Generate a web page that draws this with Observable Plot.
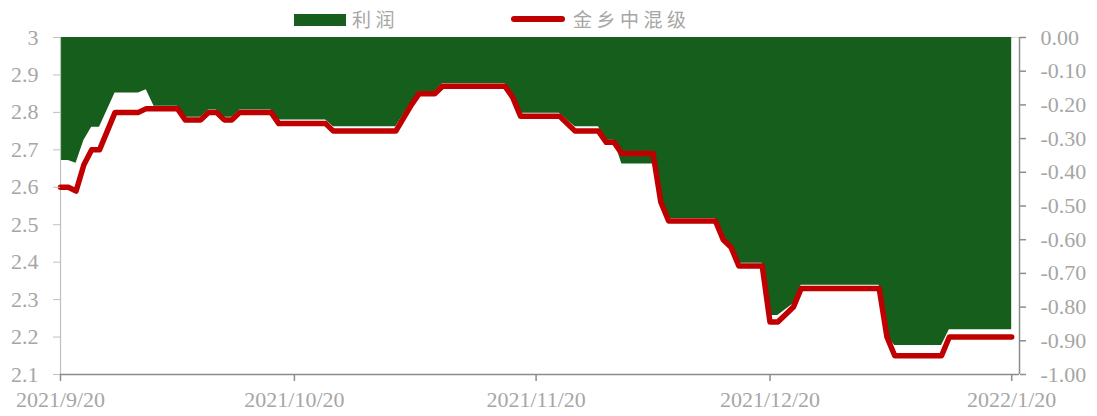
<!DOCTYPE html>
<html>
<head>
<meta charset="utf-8">
<script src="https://cdn.jsdelivr.net/npm/d3@7"></script>
<script src="https://cdn.jsdelivr.net/npm/@observablehq/plot@0.6"></script>
<style>
  body { margin: 0; background: #fff; }
  #wrap { position: relative; width: 1097px; height: 416px; }
  #legend { position: absolute; left: 0; top: 0; width: 1097px; height: 37px; font-family: "Noto Sans CJK SC", sans-serif; font-size: 19px; color: #a6a6a6; letter-spacing: 4.5px; }
  .sw-area { position: absolute; left: 294px; top: 14px; width: 52px; height: 12px; background: #165e1b; }
  .sw-line { position: absolute; left: 511px; top: 16px; width: 54px; height: 6px; border-radius: 3px; background: #c00000; }
  .lab { position: absolute; top: 5px; line-height: 28px; white-space: nowrap; }
</style>
</head>
<body>
<div id="wrap">
  <div id="chart"></div>
  <div id="legend">
    <div class="sw-area"></div><div class="lab" style="left:352px">利润</div>
    <div class="sw-line"></div><div class="lab" style="left:573px">金乡中混级</div>
  </div>
</div>
<script>
const dates = ["2021-09-20","2021-09-21","2021-09-22","2021-09-23","2021-09-24","2021-09-25","2021-09-27","2021-09-30",
  "2021-10-01","2021-10-02","2021-10-05","2021-10-06","2021-10-08","2021-10-09","2021-10-10","2021-10-11","2021-10-12",
  "2021-10-13","2021-10-17","2021-10-18","2021-10-24","2021-10-25","2021-11-02","2021-11-04","2021-11-05","2021-11-07",
  "2021-11-08","2021-11-16","2021-11-17","2021-11-18","2021-11-23","2021-11-25","2021-11-28","2021-11-29","2021-11-30",
  "2021-12-01","2021-12-05","2021-12-06","2021-12-07","2021-12-13","2021-12-14","2021-12-15","2021-12-16","2021-12-19",
  "2021-12-20","2021-12-21","2021-12-23","2021-12-24","2022-01-03","2022-01-04","2022-01-05","2022-01-11","2022-01-12",
  "2022-01-20"];
// 金乡中混级 (left axis)
const price = [2.60,2.60,2.59,2.66,2.70,2.70,2.80,2.80,
  2.81,2.81,2.81,2.78,2.78,2.80,2.80,2.78,2.78,
  2.80,2.80,2.77,2.77,2.75,2.75,2.82,2.85,2.85,
  2.87,2.87,2.84,2.79,2.79,2.75,2.75,2.72,2.72,
  2.69,2.69,2.56,2.51,2.51,2.46,2.44,2.39,2.39,
  2.24,2.24,2.28,2.33,2.33,2.20,2.15,2.15,2.20,
  2.20];
// 利润 (right axis)
const profit = [-0.365,-0.365,-0.373,-0.306,-0.266,-0.266,-0.165,-0.165,
  -0.155,-0.204,-0.204,-0.237,-0.237,-0.215,-0.215,-0.237,-0.237,
  -0.215,-0.215,-0.245,-0.245,-0.265,-0.265,-0.193,-0.160,-0.160,
  -0.137,-0.137,-0.170,-0.225,-0.225,-0.265,-0.265,-0.305,-0.305,
  -0.375,-0.375,-0.481,-0.537,-0.537,-0.593,-0.615,-0.670,-0.670,
  -0.825,-0.825,-0.790,-0.735,-0.735,-0.887,-0.914,-0.914,-0.867,
  -0.867];
const xTicks = ["2021-09-20","2021-10-20","2021-11-20","2021-12-20","2022-01-20"];
const leftTicks = [2.1,2.2,2.3,2.4,2.5,2.6,2.7,2.8,2.9,3];
const rightTicks = [0,-0.1,-0.2,-0.3,-0.4,-0.5,-0.6,-0.7,-0.8,-0.9,-1.0];

const xStart = new Date("2021-09-20"), xEnd = new Date("2022-01-21");
const yMin = 2.1, yMax = 3;
// right axis maps profit [−1, 0] onto left axis [2.1, 3]
const toLeft = p => yMax + p * (yMax - yMin);

const rows = dates.map((d, i) => ({date: new Date(d), price: price[i], profitY: toLeft(profit[i])}));
const fmtDate = d => `${d.getUTCFullYear()}/${d.getUTCMonth() + 1}/${d.getUTCDate()}`;
const textColor = "#a6a6a6";

const chart = Plot.plot({
  width: 1097,
  height: 416,
  marginLeft: 60,
  marginRight: 78,
  marginTop: 37,
  marginBottom: 42,
  style: {fontFamily: "'Liberation Serif', 'Times New Roman', serif", background: "white"},
  x: {type: "utc", domain: [xStart, xEnd], axis: null},
  y: {domain: [yMin, yMax], axis: null},
  marks: [
    Plot.ruleY([yMax], {stroke: "#d9d9d9"}),
    Plot.areaY(rows, {x: "date", y1: () => yMax, y2: "profitY", fill: "#165e1b"}),
    Plot.ruleX([xStart], {stroke: "#bfbfbf", strokeWidth: 1.2}),
    Plot.ruleX([xEnd], {stroke: "#8c8c8c", strokeWidth: 1.5}),
    Plot.ruleY([yMin], {stroke: "#8c8c8c", strokeWidth: 1.5}),
    Plot.line(rows, {x: "date", y: "price", stroke: "#c00000", strokeWidth: 5.5, strokeLinejoin: "round", strokeLinecap: "round"}),
    Plot.axisY(leftTicks, {anchor: "left", tickSize: 7, tickPadding: 15, fontSize: 22, fill: textColor, stroke: "#bfbfbf",
      tickFormat: d => d === 3 ? "3" : d.toFixed(1)}),
    Plot.axisY(rightTicks.map(toLeft), {anchor: "right", tickSize: 6, tickPadding: 15, fontSize: 22, fill: textColor, stroke: "#8c8c8c", strokeWidth: 1.5,
      tickFormat: v => { const p = (v - yMax) / (yMax - yMin); return Math.abs(p) < 1e-9 ? "0.00" : p.toFixed(2); }}),
    Plot.axisX(xTicks.map(d => new Date(d)), {anchor: "bottom", tickSize: 7, tickPadding: 10, fontSize: 22, fill: textColor, stroke: "#8c8c8c", strokeWidth: 1.5,
      tickFormat: fmtDate})
  ]
});
document.getElementById("chart").appendChild(chart);
</script>
</body>
</html>
